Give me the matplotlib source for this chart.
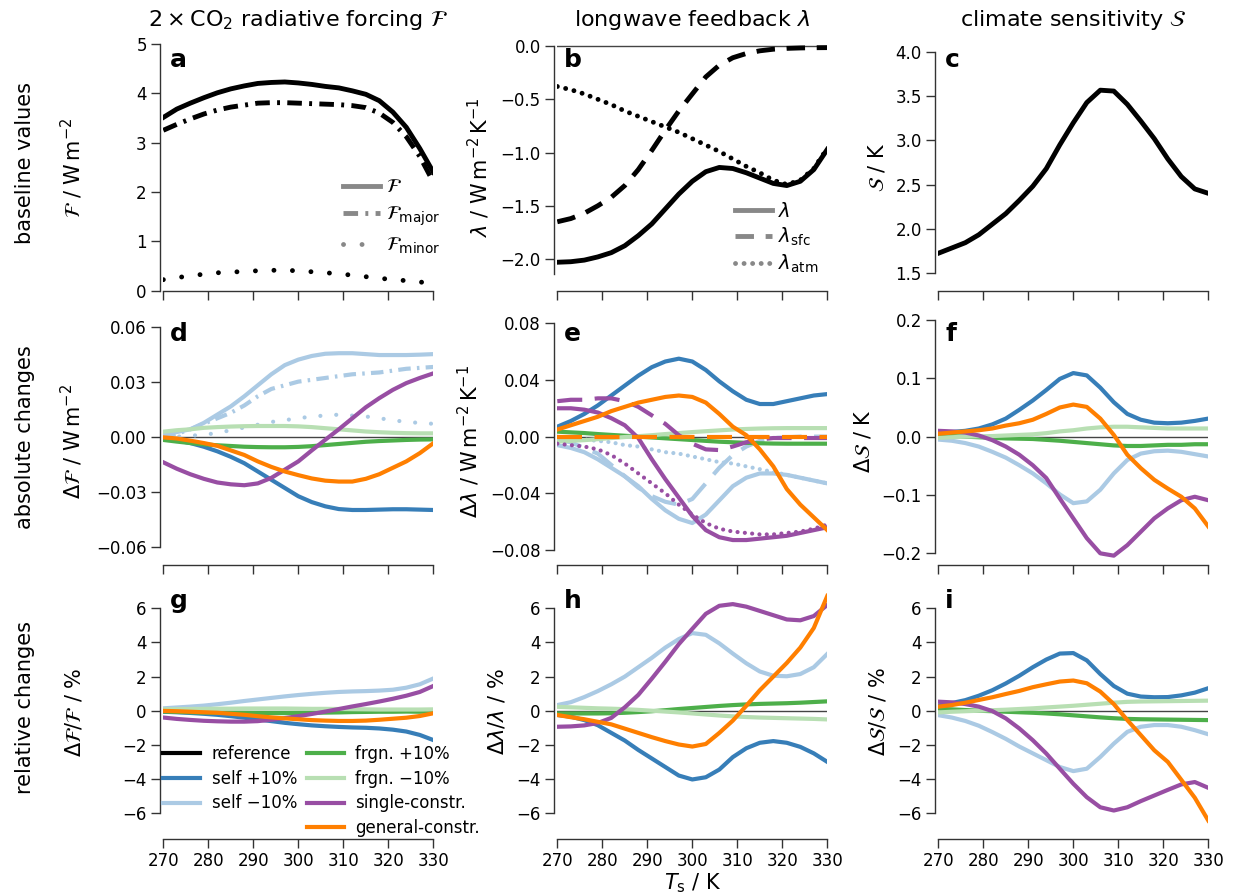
import matplotlib.pyplot as plt
from matplotlib.lines import Line2D

# surface temperature grid (K)
T = [270, 273, 276, 279, 282, 285, 288, 291, 294, 297, 300,
     303, 306, 309, 312, 315, 318, 321, 324, 327, 330]

# baseline values
F_tot = [3.51, 3.68, 3.80, 3.91, 4.01, 4.09, 4.15, 4.20, 4.22, 4.23, 4.21,
         4.18, 4.14, 4.11, 4.05, 3.98, 3.85, 3.62, 3.31, 2.88, 2.40]
F_major = [3.25, 3.37, 3.48, 3.58, 3.66, 3.72, 3.76, 3.80, 3.81, 3.81, 3.80,
           3.79, 3.78, 3.77, 3.75, 3.71, 3.60, 3.41, 3.12, 2.72, 2.20]
F_minor = [0.22, 0.26, 0.30, 0.33, 0.36, 0.37, 0.39, 0.40, 0.41, 0.41, 0.40,
           0.38, 0.36, 0.34, 0.31, 0.28, 0.25, 0.22, 0.20, 0.17, 0.16]
lam_tot = [-2.03, -2.025, -2.01, -1.98, -1.94, -1.875, -1.78, -1.67, -1.53, -1.39, -1.27,
           -1.18, -1.14, -1.15, -1.19, -1.24, -1.29, -1.31, -1.27, -1.16, -0.97]
lam_sfc = [-1.65, -1.62, -1.57, -1.50, -1.42, -1.31, -1.16, -0.98, -0.79, -0.61, -0.45,
           -0.29, -0.18, -0.11, -0.07, -0.045, -0.03, -0.022, -0.018, -0.016, -0.015]
lam_atm = [-0.38, -0.41, -0.45, -0.50, -0.55, -0.61, -0.66, -0.71, -0.76, -0.81, -0.87,
           -0.93, -0.99, -1.06, -1.13, -1.19, -1.26, -1.30, -1.26, -1.15, -0.96]
S_ref = [1.72, 1.78, 1.84, 1.93, 2.05, 2.17, 2.32, 2.48, 2.68, 2.95, 3.20,
         3.43, 3.57, 3.56, 3.41, 3.22, 3.02, 2.79, 2.59, 2.45, 2.40]

# absolute changes of forcing
dF_self_p = [-0.001, -0.002, -0.0035, -0.0055, -0.008, -0.011, -0.0145, -0.019, -0.0235, -0.028, -0.0325,
             -0.0357, -0.038, -0.0395, -0.040, -0.040, -0.0398, -0.0396, -0.0396, -0.0398, -0.040]
dF_self_m = [0.001, 0.0025, 0.004, 0.0075, 0.012, 0.0165, 0.022, 0.028, 0.034, 0.039, 0.042,
             0.044, 0.0452, 0.0455, 0.0455, 0.045, 0.0445, 0.0445, 0.0445, 0.0447, 0.045]
dFmaj_self_m = [0.0, 0.0015, 0.004, 0.007, 0.010, 0.013, 0.017, 0.022, 0.026, 0.028, 0.030,
                0.031, 0.032, 0.033, 0.034, 0.0345, 0.035, 0.036, 0.037, 0.0375, 0.038]
dFmin_self_m = [0.0, 0.0, 0.0005, 0.001, 0.002, 0.0035, 0.005, 0.0065, 0.008, 0.009, 0.010,
                0.011, 0.0115, 0.012, 0.0115, 0.011, 0.010, 0.009, 0.008, 0.0075, 0.007]
dF_frgn_p = [-0.0018, -0.0027, -0.0035, -0.0042, -0.0047, -0.0051, -0.0055, -0.0057, -0.0058, -0.0058, -0.0056,
             -0.0052, -0.0046, -0.004, -0.0034, -0.0028, -0.0024, -0.0021, -0.0018, -0.0016, -0.0015]
dF_frgn_m = [0.0027, 0.0035, 0.004, 0.0048, 0.0052, 0.0055, 0.0057, 0.0058, 0.0058, 0.0058, 0.0056,
             0.0052, 0.0046, 0.004, 0.0034, 0.0028, 0.0024, 0.0021, 0.0019, 0.0018, 0.0018]
dF_single = [-0.014, -0.0175, -0.0205, -0.023, -0.025, -0.026, -0.0265, -0.0255, -0.0225, -0.018, -0.0135,
             -0.0075, -0.0017, 0.004, 0.010, 0.016, 0.021, 0.0255, 0.0292, 0.032, 0.0345]
dF_general = [-0.0004, -0.001, -0.0022, -0.0035, -0.005, -0.0075, -0.010, -0.0135, -0.0165, -0.019, -0.021,
              -0.0228, -0.024, -0.0245, -0.0245, -0.023, -0.0205, -0.017, -0.0135, -0.009, -0.0036]

# absolute changes of feedback
dl_self_p = [0.007, 0.011, 0.016, 0.022, 0.029, 0.036, 0.043, 0.049, 0.053, 0.055, 0.053,
             0.047, 0.039, 0.032, 0.026, 0.023, 0.023, 0.025, 0.027, 0.029, 0.030]
dl_self_m = [-0.006, -0.008, -0.011, -0.016, -0.022, -0.028, -0.035, -0.044, -0.052, -0.058, -0.061,
             -0.055, -0.045, -0.035, -0.029, -0.026, -0.026, -0.027, -0.029, -0.031, -0.033]
dlsfc_self_m = [-0.002, -0.004, -0.008, -0.012, -0.020, -0.028, -0.036, -0.042, -0.046, -0.048, -0.044,
                -0.033, -0.022, -0.013, -0.007, -0.003, -0.001, -0.0005, 0.0, 0.0, 0.0]
dlatm_self_m = [0.0, -0.001, -0.002, -0.003, -0.004, -0.006, -0.007, -0.009, -0.011, -0.012, -0.014,
                -0.016, -0.018, -0.019, -0.021, -0.023, -0.025, -0.027, -0.029, -0.031, -0.033]
dl_frgn_p = [0.0035, 0.003, 0.0025, 0.0018, 0.0012, 0.0006, 0.0, -0.0006, -0.0012, -0.0018, -0.0024,
             -0.003, -0.0036, -0.004, -0.0044, -0.0047, -0.0049, -0.005, -0.005, -0.005, -0.005]
dl_frgn_m = [-0.0035, -0.003, -0.0025, -0.0018, -0.001, -0.0003, 0.0003, 0.001, 0.0018, 0.0025, 0.0032,
             0.0038, 0.0044, 0.005, 0.0054, 0.0057, 0.0059, 0.006, 0.006, 0.006, 0.006]
dl_single = [0.020, 0.020, 0.019, 0.017, 0.013, 0.008, -0.001, -0.016, -0.030, -0.043, -0.056,
             -0.066, -0.071, -0.073, -0.073, -0.072, -0.071, -0.070, -0.068, -0.066, -0.064]
dlsfc_single = [0.025, 0.026, 0.026, 0.027, 0.027, 0.025, 0.021, 0.015, 0.009, 0.001, -0.005,
                -0.009, -0.0095, -0.007, -0.004, -0.002, -0.001, -0.001, -0.001, -0.001, -0.001]
dlatm_single = [-0.005, -0.006, -0.007, -0.009, -0.013, -0.019, -0.026, -0.033, -0.040, -0.048, -0.055,
                -0.061, -0.065, -0.067, -0.068, -0.069, -0.069, -0.068, -0.067, -0.065, -0.062]
dl_general = [0.005, 0.008, 0.011, 0.014, 0.018, 0.021, 0.024, 0.026, 0.028, 0.029, 0.028,
              0.024, 0.016, 0.007, 0.001, -0.009, -0.021, -0.037, -0.048, -0.057, -0.066]
dlsfc_general = [0.0] * 21

# absolute changes of climate sensitivity
dS_self_p = [0.007, 0.008, 0.010, 0.014, 0.021, 0.031, 0.046, 0.062, 0.080, 0.099, 0.109,
             0.105, 0.084, 0.059, 0.039, 0.029, 0.024, 0.023, 0.024, 0.027, 0.031]
dS_self_m = [-0.005, -0.007, -0.011, -0.017, -0.026, -0.036, -0.049, -0.063, -0.080, -0.099, -0.114,
             -0.111, -0.091, -0.063, -0.040, -0.029, -0.025, -0.024, -0.026, -0.030, -0.034]
dS_frgn_p = [0.002, 0.001, 0.0, -0.001, -0.002, -0.003, -0.0035, -0.004, -0.0055, -0.007, -0.009,
             -0.011, -0.013, -0.015, -0.016, -0.016, -0.015, -0.014, -0.014, -0.013, -0.013]
dS_frgn_m = [-0.002, -0.001, 0.0, 0.0005, 0.001, 0.002, 0.003, 0.004, 0.006, 0.009, 0.011,
             0.014, 0.016, 0.017, 0.017, 0.016, 0.015, 0.014, 0.014, 0.014, 0.014]
dS_single = [0.010, 0.009, 0.007, 0.002, -0.006, -0.017, -0.031, -0.049, -0.071, -0.106, -0.140,
             -0.174, -0.200, -0.204, -0.186, -0.163, -0.140, -0.123, -0.109, -0.103, -0.109]
dS_general = [0.005, 0.007, 0.009, 0.011, 0.014, 0.019, 0.023, 0.029, 0.039, 0.050, 0.055,
              0.051, 0.031, 0.003, -0.031, -0.054, -0.074, -0.089, -0.103, -0.123, -0.154]

# relative changes (%)
rF_self_p = [-0.06, -0.09, -0.13, -0.18, -0.24, -0.32, -0.41, -0.51, -0.61, -0.71, -0.79,
             -0.86, -0.91, -0.95, -0.98, -1.0, -1.04, -1.11, -1.22, -1.42, -1.72]
rF_self_m = [0.14, 0.19, 0.24, 0.30, 0.38, 0.47, 0.57, 0.66, 0.75, 0.84, 0.92,
             0.99, 1.05, 1.10, 1.13, 1.15, 1.18, 1.23, 1.35, 1.55, 1.89]
rF_frgn_p = [-0.05, -0.07, -0.09, -0.11, -0.12, -0.12, -0.13, -0.14, -0.14, -0.14, -0.13,
             -0.12, -0.11, -0.1, -0.08, -0.07, -0.06, -0.06, -0.05, -0.06, -0.06]
rF_frgn_m = [0.08, 0.09, 0.1, 0.11, 0.12, 0.12, 0.13, 0.13, 0.13, 0.13, 0.12,
             0.11, 0.11, 0.1, 0.09, 0.08, 0.07, 0.07, 0.07, 0.07, 0.08]
rF_single = [-0.4, -0.48, -0.54, -0.59, -0.62, -0.64, -0.64, -0.61, -0.53, -0.43, -0.32,
             -0.19, -0.05, 0.10, 0.25, 0.39, 0.54, 0.70, 0.88, 1.10, 1.45]
rF_general = [-0.01, -0.03, -0.06, -0.09, -0.12, -0.18, -0.24, -0.32, -0.39, -0.45, -0.5,
              -0.55, -0.58, -0.6, -0.6, -0.58, -0.53, -0.47, -0.41, -0.31, -0.15]

rl_self_p = [-0.25, -0.35, -0.55, -0.85, -1.3, -1.75, -2.3, -2.8, -3.3, -3.8, -4.03,
             -3.9, -3.45, -2.72, -2.2, -1.88, -1.78, -1.88, -2.12, -2.5, -3.0]
rl_self_m = [0.33, 0.5, 0.8, 1.15, 1.55, 2.0, 2.55, 3.1, 3.7, 4.2, 4.55,
             4.45, 3.95, 3.35, 2.78, 2.3, 2.05, 2.02, 2.15, 2.55, 3.33]
rl_frgn_p = [-0.16, -0.16, -0.16, -0.16, -0.15, -0.12, -0.08, -0.03, 0.03, 0.1, 0.16,
             0.22, 0.28, 0.33, 0.37, 0.4, 0.42, 0.44, 0.47, 0.51, 0.55]
rl_frgn_m = [0.23, 0.2, 0.17, 0.14, 0.12, 0.09, 0.05, 0.0, -0.05, -0.1, -0.16,
             -0.22, -0.28, -0.33, -0.37, -0.4, -0.42, -0.44, -0.46, -0.48, -0.51]
rl_single = [-0.94, -0.92, -0.86, -0.72, -0.42, 0.2, 0.93, 1.88, 2.87, 3.9, 4.8,
             5.68, 6.15, 6.25, 6.1, 5.85, 5.6, 5.35, 5.3, 5.55, 6.2]
rl_general = [-0.25, -0.38, -0.5, -0.65, -0.8, -1.05, -1.3, -1.55, -1.78, -1.98, -2.1,
              -1.95, -1.3, -0.58, 0.29, 1.2, 2.0, 2.8, 3.7, 4.85, 6.73]

rS_self_p = [0.3, 0.45, 0.62, 0.88, 1.2, 1.6, 2.05, 2.55, 3.0, 3.35, 3.38,
             2.95, 2.15, 1.45, 1.0, 0.83, 0.79, 0.8, 0.9, 1.06, 1.32]
rS_self_m = [-0.26, -0.4, -0.6, -0.88, -1.25, -1.65, -2.1, -2.5, -2.9, -3.3, -3.54,
             -3.4, -2.71, -1.93, -1.24, -0.94, -0.84, -0.84, -0.94, -1.14, -1.38]
rS_frgn_p = [0.12, 0.08, 0.04, 0.0, -0.03, -0.06, -0.09, -0.12, -0.16, -0.21, -0.27,
             -0.33, -0.39, -0.44, -0.48, -0.5, -0.51, -0.52, -0.53, -0.54, -0.55]
rS_frgn_m = [-0.1, -0.06, -0.03, 0.0, 0.03, 0.06, 0.1, 0.14, 0.19, 0.24, 0.29,
             0.35, 0.41, 0.47, 0.52, 0.54, 0.55, 0.56, 0.57, 0.58, 0.59]
rS_single = [0.53, 0.49, 0.39, 0.24, -0.02, -0.45, -1.04, -1.73, -2.51, -3.40, -4.28,
             -5.07, -5.66, -5.85, -5.66, -5.30, -4.97, -4.64, -4.32, -4.18, -4.52]
rS_general = [0.24, 0.33, 0.47, 0.63, 0.79, 0.98, 1.16, 1.38, 1.55, 1.71, 1.77,
              1.61, 1.12, 0.39, -0.55, -1.43, -2.32, -3.0, -4.05, -5.1, -6.44]

case_labels = ['reference', 'self +10%', 'self \u221210%', 'frgn. +10%',
               'frgn. \u221210%', 'single-constr.', 'general-constr.']
case_colors = ['black', '#377eb8', '#abcae4', '#4daf4a', '#b8dfb3', '#984ea3', '#ff7f00']

plt.rcParams['font.family'] = 'DejaVu Sans'
plt.rcParams['lines.solid_joinstyle'] = 'round'
plt.rcParams['lines.dash_joinstyle'] = 'round'

W, H = 1233, 896
fig = plt.figure(figsize=(W / 100, H / 100), dpi=100)

col_left = [163.3, 557.3, 938.3]
col_w = 270
row_top = [44, 318, 585]
row_bot = [291, 565, 839]

dash_dot = (0, (3.0, 1.5, 0.6, 1.5))
sparse_dots = (0, (0.01, 3.8))
dense_dots = (0, (0.01, 1.75))
long_dash = (0, (3.8, 2.4))
DARK = '#333333'
YLAB = 15


def make_ax(r, c):
    return fig.add_axes([col_left[c] / W, 1 - row_bot[r] / H,
                         col_w / W, (row_bot[r] - row_top[r]) / H])


def style(ax, ylim, yticks, bounds, labels_x=False):
    ax.set_xlim(270, 330)
    ax.set_ylim(*ylim)
    ax.set_xticks([270, 280, 290, 300, 310, 320, 330])
    ax.set_yticks(yticks)
    ax.spines['top'].set_visible(False)
    ax.spines['right'].set_visible(False)
    ax.spines['left'].set_position(('outward', 2.4))
    ax.spines['left'].set_bounds(*bounds)
    ax.spines['bottom'].set_bounds(270, 330)
    for s in ('left', 'bottom'):
        ax.spines[s].set_color(DARK)
        ax.spines[s].set_linewidth(1.0)
    ax.tick_params(length=6.5, width=1.0, color=DARK, labelsize=12, pad=3)
    ax.tick_params(axis='x', labelbottom=labels_x)
    ax.patch.set_alpha(0)


def zero_line(ax):
    ax.axhline(0, color='#444444', lw=1.0, zorder=0)


def letter(ax, s):
    ax.text(0.025, 0.985, s, transform=ax.transAxes, fontsize=18,
            fontweight='bold', va='top', ha='left')


axs = [[make_ax(r, c) for c in range(3)] for r in range(3)]

# --- baseline values ---
ax = axs[0][0]
ax.plot(T, F_tot, color='black', lw=3.5)
ax.plot(T, F_major, color='black', lw=3.5, ls=dash_dot)
ax.plot(T, F_minor, color='black', lw=3.5, ls=sparse_dots, dash_capstyle='round')
style(ax, (-0.01, 5.0), [0, 1, 2, 3, 4, 5], (0, 5))
ax.set_ylabel(r'$\mathcal{F}$ / W$\,$m$^{-2}$', fontsize=YLAB)
leg_h = [Line2D([], [], color='#888888', lw=3.5),
         Line2D([], [], color='#888888', lw=3.5, ls=dash_dot),
         Line2D([], [], color='#888888', lw=3.5, ls=sparse_dots, dash_capstyle='round')]
ax.legend(leg_h, [r'$\mathcal{F}$', r'$\mathcal{F}_\mathrm{major}$', r'$\mathcal{F}_\mathrm{minor}$'],
          loc='upper left', bbox_to_anchor=(0.665, 0.46), frameon=False, fontsize=14,
          handlelength=1.9, handletextpad=0.3, labelspacing=0.4, borderpad=0, borderaxespad=0)
letter(ax, 'a')

ax = axs[0][1]
zero_line(ax)
ax.plot(T, lam_tot, color='black', lw=3.5)
ax.plot(T, lam_sfc, color='black', lw=3.5, ls=long_dash)
ax.plot(T, lam_atm, color='black', lw=3.5, ls=dense_dots, dash_capstyle='round')
style(ax, (-2.30, 0.019), [0.0, -0.5, -1.0, -1.5, -2.0], (-2.14, 0))
ax.set_ylabel(r'$\lambda$ / W$\,$m$^{-2}\,$K$^{-1}$', fontsize=YLAB)
leg_h = [Line2D([], [], color='#888888', lw=3.5),
         Line2D([], [], color='#888888', lw=3.5, ls=long_dash),
         Line2D([], [], color='#888888', lw=3.5, ls=dense_dots, dash_capstyle='round')]
ax.legend(leg_h, [r'$\lambda$', r'$\lambda_\mathrm{sfc}$', r'$\lambda_\mathrm{atm}$'],
          loc='upper left', bbox_to_anchor=(0.66, 0.36), frameon=False, fontsize=14,
          handlelength=1.9, handletextpad=0.3, labelspacing=0.25, borderpad=0, borderaxespad=0)
letter(ax, 'b')

ax = axs[0][2]
ax.plot(T, S_ref, color='black', lw=3.5)
style(ax, (1.292, 4.094), [1.5, 2.0, 2.5, 3.0, 3.5, 4.0], (1.5, 4.0))
ax.set_ylabel(r'$\mathcal{S}$ / K', fontsize=YLAB)
letter(ax, 'c')

# --- absolute changes ---
ax = axs[1][0]
zero_line(ax)
ax.plot(T, dF_self_p, color=case_colors[1], lw=3)
ax.plot(T, dF_self_m, color=case_colors[2], lw=3)
ax.plot(T, dFmaj_self_m, color=case_colors[2], lw=3, ls=dash_dot)
ax.plot(T, dFmin_self_m, color=case_colors[2], lw=3, ls=sparse_dots, dash_capstyle='round')
ax.plot(T, dF_frgn_p, color=case_colors[3], lw=3)
ax.plot(T, dF_frgn_m, color=case_colors[4], lw=3)
ax.plot(T, dF_single, color=case_colors[5], lw=3)
ax.plot(T, dF_general, color=case_colors[6], lw=3)
style(ax, (-0.070, 0.0647), [-0.06, -0.03, 0.0, 0.03, 0.06], (-0.06, 0.06))
ax.set_ylabel(r'$\Delta\mathcal{F}$ / W$\,$m$^{-2}$', fontsize=YLAB)
letter(ax, 'd')

ax = axs[1][1]
zero_line(ax)
ax.plot(T, dl_self_p, color=case_colors[1], lw=3)
ax.plot(T, dl_self_m, color=case_colors[2], lw=3)
ax.plot(T, dlsfc_self_m, color=case_colors[2], lw=3, ls=(0, (6, 3)))
ax.plot(T, dlatm_self_m, color=case_colors[2], lw=3, ls=dense_dots, dash_capstyle='round')
ax.plot(T, dl_frgn_p, color=case_colors[3], lw=3)
ax.plot(T, dl_frgn_m, color=case_colors[4], lw=3)
ax.plot(T, dl_single, color=case_colors[5], lw=3)
ax.plot(T, dlsfc_single, color=case_colors[5], lw=3, ls=(0, (6, 3)))
ax.plot(T, dlatm_single, color=case_colors[5], lw=3, ls=dense_dots, dash_capstyle='round')
ax.plot(T, dl_general, color=case_colors[6], lw=3)
ax.plot(T, dlsfc_general, color=case_colors[6], lw=3, ls=(0, (6, 3)))
style(ax, (-0.0906, 0.0837), [-0.08, -0.04, 0.0, 0.04, 0.08], (-0.08, 0.08))
ax.set_ylabel(r'$\Delta\lambda$ / W$\,$m$^{-2}\,$K$^{-1}$', fontsize=YLAB)
letter(ax, 'e')

ax = axs[1][2]
zero_line(ax)
for vals, col in zip([dS_self_p, dS_self_m, dS_frgn_p, dS_frgn_m, dS_single, dS_general],
                     case_colors[1:]):
    ax.plot(T, vals, color=col, lw=3)
style(ax, (-0.220, 0.2034), [-0.2, -0.1, 0.0, 0.1, 0.2], (-0.2, 0.2))
ax.set_ylabel(r'$\Delta\mathcal{S}$ / K', fontsize=YLAB)
letter(ax, 'f')

# --- relative changes ---
rel_sets = [
    [rF_self_p, rF_self_m, rF_frgn_p, rF_frgn_m, rF_single, rF_general],
    [rl_self_p, rl_self_m, rl_frgn_p, rl_frgn_m, rl_single, rl_general],
    [rS_self_p, rS_self_m, rS_frgn_p, rS_frgn_m, rS_single, rS_general],
]
rel_ylabels = [r'$\Delta\mathcal{F}/\mathcal{F}$ / %', r'$\Delta\lambda/\lambda$ / %',
               r'$\Delta\mathcal{S}/\mathcal{S}$ / %']
for c in range(3):
    ax = axs[2][c]
    zero_line(ax)
    for vals, col in zip(rel_sets[c], case_colors[1:]):
        ax.plot(T, vals, color=col, lw=3)
    style(ax, (-7.52, 7.37), [-6, -4, -2, 0, 2, 4, 6], (-6, 6), labels_x=True)
    ax.set_ylabel(rel_ylabels[c], fontsize=YLAB)
    letter(ax, 'ghi'[c])

axs[2][1].set_xlabel(r'$T_\mathrm{s}$ / K', fontsize=YLAB, labelpad=1)

# legend for the perturbation experiments
handles = [Line2D([], [], color=col, lw=3) for col in case_colors]
handles.insert(3, Line2D([], [], color='none'))
labels = case_labels[:3] + [''] + case_labels[3:]
axs[2][0].legend(handles, labels, ncol=2, loc='upper left', bbox_to_anchor=(0.0, 0.37),
                 frameon=False, fontsize=12, handlelength=2.2, handletextpad=0.7,
                 labelspacing=0.4, columnspacing=0.6, borderpad=0, borderaxespad=0)

for c in (1, 2):
    for r in range(3):
        axs[r][c].yaxis.labelpad = 6
# left column labels share one x position
for r in range(3):
    axs[r][0].yaxis.set_label_coords(-0.29, 0.5)

# column titles and row labels
titles = [r'$2\times\mathrm{CO}_2$ radiative forcing $\mathcal{F}$',
          r'longwave feedback $\lambda$', r'climate sensitivity $\mathcal{S}$']
for c, t in enumerate(titles):
    fig.text((col_left[c] + col_w / 2) / W, 1 - 20 / H, t, ha='center', va='center', fontsize=16)
row_names = ['baseline values', 'absolute changes', 'relative changes']
for r, t in enumerate(row_names):
    yc = (row_top[r] + row_bot[r]) / 2 - 4
    fig.text(25 / W, 1 - yc / H, t, rotation=90, ha='center', va='center', fontsize=15)

fig.savefig('out.png', dpi=100)
